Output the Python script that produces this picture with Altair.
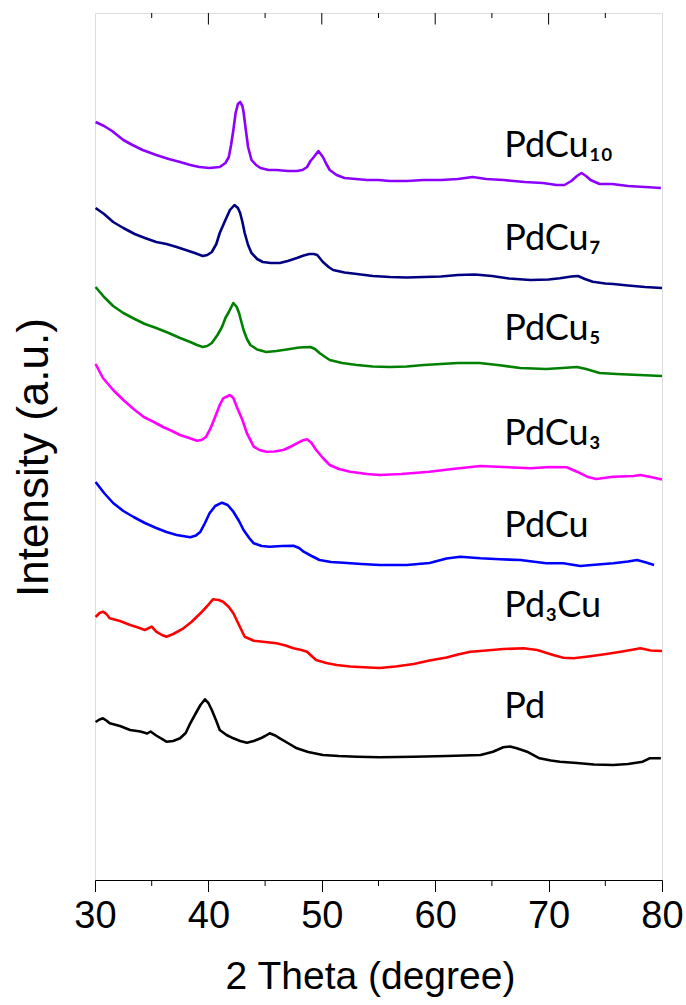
import altair as alt
import pandas as pd

# XRD patterns, stacked with vertical offsets (intensity in arbitrary units)
theta_pdcu10 = [30.05, 30.8, 31.5, 32.5, 33.3, 34.2, 35.4, 36.5, 37.5, 38.4, 39.2, 40.1, 41.0, 41.5, 41.8,
                42.0, 42.2, 42.4, 42.6, 42.8, 43.0, 43.1, 43.3, 43.5, 43.8, 44.2, 44.6, 45.3, 46.0, 47.0,
                47.8, 48.3, 48.7, 49.0, 49.3, 49.7, 50.1, 50.4, 50.7, 51.3, 52.0, 53.0, 54.0, 55.0, 56.0,
                57.5, 59.0, 60.5, 62.0, 63.3, 64.5, 66.0, 67.9, 69.5, 70.7, 71.4, 72.0, 72.5, 72.9, 73.3,
                73.7, 74.1, 74.5, 75.6, 77.0, 78.5, 79.9]
int_pdcu10 = [758, 754, 749, 740, 735, 730, 725, 721, 718, 715, 713, 712, 713, 717, 723,
              735, 750, 767, 776, 778, 774, 768, 750, 733, 720, 715, 712, 710, 710, 709,
              709, 710, 713, 719, 723, 729, 723, 716, 710, 705, 702, 701, 700, 700, 699,
              699, 700, 700, 701, 703, 701, 700, 698, 697, 695, 695, 699, 704, 707, 704,
              700, 698, 696, 696, 694, 693, 692]

theta_pdcu7 = [30.05, 30.8, 31.6, 32.5, 33.5, 34.4, 35.4, 36.3, 37.2, 38.0, 38.8, 39.5, 39.9, 40.3, 40.7,
               41.0, 41.5, 41.9, 42.3, 42.6, 42.8, 43.0, 43.2, 43.5, 43.8, 44.3, 44.8, 45.5, 46.3, 47.0,
               47.8, 48.4, 48.9, 49.3, 49.6, 50.1, 50.6, 51.0, 52.0, 53.1, 54.5, 56.0, 57.5, 59.0, 60.5,
               62.0, 63.5, 65.0, 66.5, 68.4, 70.0, 71.0, 72.0, 72.6, 73.2, 73.9, 75.0, 75.7, 77.0, 78.5, 80.0]
int_pdcu7 = [672, 666, 658, 652, 646, 642, 638, 636, 633, 630, 627, 624, 625, 628, 636,
             647, 660, 670, 675, 672, 667, 658, 647, 635, 627, 621, 618, 617, 617, 619,
             622, 624.5, 626, 626, 625, 618, 613, 610, 607.5, 606, 604, 603, 602.5, 603, 603.5,
             605, 605.5, 604, 601.5, 600, 600.5, 601.7, 603.5, 604, 601, 598.3, 596.5, 596, 594.5, 593, 592]

theta_pdcu5 = [30.05, 30.8, 31.6, 32.5, 33.5, 34.4, 35.4, 36.5, 37.5, 38.4, 39.0, 39.5, 39.9, 40.3, 40.8,
               41.2, 41.5, 41.8, 42.2, 42.5, 42.7, 43.1, 43.4, 43.7, 44.3, 45.1, 46.0, 47.2, 48.0, 49.0,
               49.4, 49.8, 50.3, 50.7, 51.8, 53.1, 54.5, 56.0, 57.5, 59.0, 60.5, 62.0, 63.9, 65.5, 67.5,
               69.8, 71.2, 72.5, 73.3, 74.5, 76.0, 78.0, 80.0]
int_pdcu5 = [593, 583, 574, 567, 561, 556, 552, 547, 542, 538, 535, 533, 534, 537, 545,
             553, 562, 568, 577, 573, 567, 550, 541, 535, 530.5, 528, 529, 531, 532.5, 533,
             531, 527, 523, 520, 517, 515, 513.5, 513, 513.5, 515, 516, 517, 517, 515, 512,
             511, 512, 513, 511, 507, 506, 505, 504]

theta_pdcu3 = [30.05, 30.7, 31.6, 32.5, 33.4, 34.3, 35.2, 36.0, 36.8, 37.5, 38.3, 39.0, 39.4, 39.8, 40.2,
               40.6, 41.0, 41.3, 41.9, 42.2, 42.5, 43.0, 43.4, 44.0, 44.5, 45.1, 45.8, 46.6, 47.2, 47.8,
               48.3, 48.7, 49.1, 49.5, 50.1, 50.7, 51.5, 52.5, 54.0, 55.1, 57.0, 59.5, 61.5, 64.0, 66.0,
               68.4, 70.1, 71.6, 72.5, 73.4, 74.2, 75.7, 77.5, 78.1, 79.0, 80.0]
int_pdcu3 = [516, 502, 490, 480, 471, 463, 458, 453, 449, 445, 442, 439.3, 440, 443.3, 452,
             463.3, 475, 481.7, 485, 482, 473.3, 460, 446.7, 433.3, 430, 428.3, 428.5, 430, 433, 436.7,
             439.5, 440.7, 437, 430, 422, 415, 411, 408.3, 406, 405, 406, 408.3, 411, 414, 413,
             411.7, 413, 412.7, 408.3, 403.3, 401, 403.3, 404, 405, 403, 400.5]

theta_pdcu = [30.05, 30.8, 31.6, 32.5, 33.4, 34.4, 35.4, 36.3, 37.2, 38.0, 38.4, 38.9, 39.3, 39.7, 40.1,
              40.6, 41.2, 41.7, 42.2, 42.7, 43.1, 43.6, 44.0, 44.7, 45.4, 46.5, 47.5, 48.0, 48.4, 49.1,
              49.8, 50.8, 51.9, 53.5, 55.1, 57.5, 59.5, 61.0, 62.2, 64.0, 65.7, 67.5, 69.8, 71.3, 72.8,
              73.8, 75.7, 77.0, 77.8, 78.6, 79.3]
int_pdcu = [398, 387, 377, 369, 363, 357, 352, 348, 345, 343.5, 342.7, 344.5, 348.3, 357, 366.7,
            374, 377.3, 375, 368.3, 359, 350, 342, 336.7, 334, 333.3, 334, 334.3, 332, 328.3, 324,
            320, 318, 317.3, 316, 315, 315, 317, 321.5, 323.3, 321.7, 320.7, 320, 316.7, 316.7, 314,
            315, 316.7, 318.5, 320, 317.5, 315]

theta_pd3cu = [30.05, 30.4, 30.7, 31.0, 31.3, 32.2, 33.1, 33.8, 34.4, 35.0, 35.4, 35.9, 36.3, 36.9, 37.8,
               38.5, 39.3, 39.9, 40.4, 40.9, 41.3, 41.8, 42.2, 42.7, 43.2, 44.0, 45.0, 46.0, 46.8, 47.5,
               48.2, 48.7, 49.1, 49.5, 50.4, 51.3, 52.5, 53.7, 55.1, 56.5, 58.1, 59.5, 61.0, 62.0, 63.1,
               64.5, 66.0, 67.8, 69.0, 70.4, 71.3, 72.2, 73.5, 75.1, 76.5, 78.1, 79.0, 80.0]
int_pd3cu = [263, 267, 268.3, 266, 261.7, 259, 255, 252.5, 250, 253.3, 248.3, 245, 243.3, 246, 251.7,
             258, 266.7, 274, 280.7, 280, 278.3, 273, 266.7, 255, 243.3, 239.3, 238, 236.7, 234.5, 231.7,
             230, 228.3, 224, 220, 217, 215, 213.5, 212.7, 212, 213.5, 216, 219.5, 222.5, 225.5, 228.3,
             229.5, 231, 231.7, 230, 225, 222.3, 221.7, 223.5, 226, 228.5, 231.7, 229.5, 229]

theta_pd = [30.05, 30.4, 30.7, 31.0, 31.3, 32.2, 33.1, 34.0, 34.6, 34.9, 35.4, 36.3, 36.9, 37.5, 38.0,
            38.4, 38.9, 39.3, 39.7, 40.0, 40.3, 40.7, 41.0, 41.6, 42.2, 42.8, 43.4, 44.0, 44.6, 45.0,
            45.4, 45.9, 46.3, 47.0, 47.8, 48.8, 50.1, 51.5, 53.1, 55.1, 58.1, 61.0, 64.0, 65.1, 66.0,
            66.6, 67.2, 68.1, 69.2, 70.2, 71.0, 72.5, 74.0, 75.7, 77.0, 78.3, 78.9, 79.9]
int_pd = [158, 160.5, 161.7, 159.5, 156.7, 154, 150, 148.5, 146.5, 148.5, 144.5, 138.3, 139, 141.7, 147,
          156.7, 167, 175, 180.7, 177, 170, 159, 150, 145, 141.7, 139, 137.3, 139, 141.7, 144,
          146.7, 144.5, 141.7, 137, 131.7, 128, 125, 124, 123.3, 122.7, 123.3, 124, 125, 128.3, 132.7,
          133.5, 131.7, 128.3, 121.7, 119.5, 118.3, 117, 115.5, 115, 116, 118.3, 121.7, 121.7]

samples = ["PdCu10", "PdCu7", "PdCu5", "PdCu3", "PdCu", "Pd3Cu", "Pd"]
sample_labels = ["PdCu\u2081\u2080", "PdCu\u2087", "PdCu\u2085", "PdCu\u2083", "PdCu", "Pd\u2083Cu", "Pd"]
sample_colors = ["#8B00FF", "#000080", "#008000", "#FF00FF", "#0000FF", "#FF0000", "#000000"]
label_theta = [66.1, 66.1, 66.1, 66.1, 66.1, 66.1, 66.1]
label_intensity = [723, 630, 540, 435, 343, 263, 162]

major_ticks = [30, 40, 50, 60, 70, 80]
top_major_ticks = [40, 50, 60, 70]
minor_ticks = [35, 45, 55, 65, 75]

series = [
    (theta_pdcu10, int_pdcu10), (theta_pdcu7, int_pdcu7), (theta_pdcu5, int_pdcu5),
    (theta_pdcu3, int_pdcu3), (theta_pdcu, int_pdcu), (theta_pd3cu, int_pd3cu), (theta_pd, int_pd),
]
rows = []
for name, (tt, ii) in zip(samples, series):
    for t, i in zip(tt, ii):
        rows.append({"sample": name, "theta": t, "intensity": i})
df = pd.DataFrame(rows)

labels_df = pd.DataFrame({"text": sample_labels, "theta": label_theta, "intensity": label_intensity})

W, H = 567, 867
x_scale = alt.Scale(domain=[30, 80], nice=False, zero=False)
y_scale = alt.Scale(domain=[0, H], nice=False, zero=False)

x_axis = alt.Axis(title="2 Theta (degree)", values=major_ticks, format="d",
                  tickSize=11.5, tickColor="#000", domainColor="#000",
                  labelFontSize=38, labelFont="Liberation Sans", labelColor="#000",
                  labelFlush=False, labelPadding=6, titleFontSize=39, titleFont="Liberation Sans",
                  titleFontWeight="normal", titleColor="#000", titlePadding=22,
                  titleX=275, titleAlign="center", grid=False)
y_axis = alt.Axis(title="Intensity (a.u.)", ticks=False, labels=False, domain=False, grid=False,
                  titleFontSize=44, titleFont="Liberation Sans", titleFontWeight="normal",
                  titleColor="#000", titleX=-61, titleY=444, titleAngle=270,
                  titleAlign="center", titleBaseline="middle")

x_enc = alt.X("theta:Q", scale=x_scale, axis=x_axis)
y_enc = alt.Y("intensity:Q", scale=y_scale, axis=y_axis)

lines = alt.Chart(df).mark_line(strokeWidth=2.6, strokeJoin="round").encode(
    x=x_enc,
    y=y_enc,
    color=alt.Color("sample:N", scale=alt.Scale(domain=samples, range=sample_colors), legend=None),
    detail="sample:N",
)

text = alt.Chart(labels_df).mark_text(align="left", baseline="alphabetic", fontSize=36,
                                      font="Lato, DejaVu Sans", color="#000").encode(
    x=x_enc, y=y_enc, text="text:N",
)

# mirrored ticks on the top frame point inward; minor ticks on the bottom point outward
top_major = alt.Chart(pd.DataFrame({"theta": top_major_ticks})).mark_rule(color="#000", strokeWidth=1).encode(
    x=x_enc, y=alt.value(0), y2=alt.value(11.5))
top_minor = alt.Chart(pd.DataFrame({"theta": minor_ticks})).mark_rule(color="#000", strokeWidth=1).encode(
    x=x_enc, y=alt.value(0), y2=alt.value(5))
bottom_minor = alt.Chart(pd.DataFrame({"theta": minor_ticks})).mark_rule(color="#000", strokeWidth=1).encode(
    x=x_enc, y=alt.value(H), y2=alt.value(H + 6))

chart = alt.layer(lines, text, top_major, top_minor, bottom_minor).properties(
    width=W, height=H,
    autosize=alt.AutoSizeParams(type="none"),
    padding={"left": 95, "top": 13, "right": 24, "bottom": 125},
).configure_view(stroke="#333", strokeWidth=1).configure(background="white")

chart.save("out.html", embed_options={"renderer": "svg", "actions": False})
